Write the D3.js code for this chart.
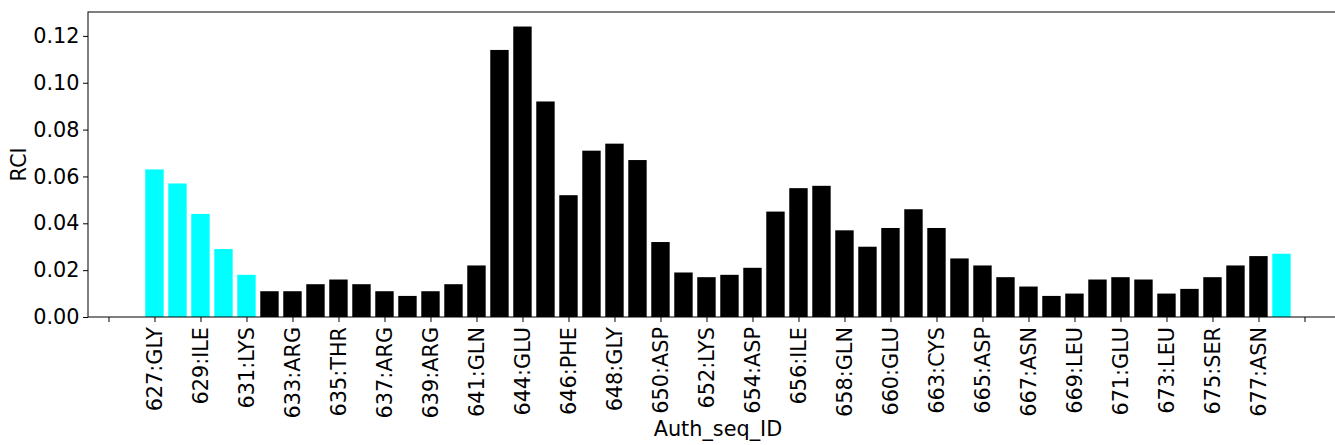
<!DOCTYPE html>
<html>
<head>
<meta charset="utf-8">
<script src="https://cdn.jsdelivr.net/npm/d3@7"></script>
<style>
  html, body { margin: 0; padding: 0; background: #fff; }
  svg { display: block; }
  text { font-family: "DejaVu Sans", sans-serif; }
</style>
</head>
<body>
<svg id="chart" width="1335" height="445"></svg>
<script>
// Values, one per residue (bar index 0..49)
const values = [
  0.063, 0.057, 0.044, 0.029, 0.018, 0.011, 0.011, 0.014, 0.016, 0.014,
  0.011, 0.009, 0.011, 0.014, 0.022, 0.114, 0.124, 0.092, 0.052, 0.071,
  0.074, 0.067, 0.032, 0.019, 0.017, 0.018, 0.021, 0.045, 0.055, 0.056,
  0.037, 0.030, 0.038, 0.046, 0.038, 0.025, 0.022, 0.017, 0.013, 0.009,
  0.010, 0.016, 0.017, 0.016, 0.010, 0.012, 0.017, 0.022, 0.026, 0.027
];
// Highlighted (cyan) bars
const highlighted = [0, 1, 2, 3, 4, 49];
// Tick labels shown on every other bar
const tickLabels = [
  "627:GLY", "629:ILE", "631:LYS", "633:ARG", "635:THR", "637:ARG", "639:ARG",
  "641:GLN", "644:GLU", "646:PHE", "648:GLY", "650:ASP", "652:LYS", "654:ASP",
  "656:ILE", "658:GLN", "660:GLU", "663:CYS", "665:ASP", "667:ASN", "669:LEU",
  "671:GLU", "673:LEU", "675:SER", "677:ASN"
];
const yTicks = [0, 0.02, 0.04, 0.06, 0.08, 0.10, 0.12];

const svg = d3.select("#chart");
const fs = 20.8;
const mLeft = 88, mTop = 12, mBottom = 317;
const n = values.length;
const barW = 0.8;
const xMin = -barW / 2, xMax = n - 1 + barW / 2;
const pad = (xMax - xMin) * 0.05;
const yMax = d3.max(values) * 1.05;

const x = d3.scaleLinear().domain([xMin - pad, xMax + pad]).range([mLeft, mLeft + 23 * (xMax - xMin + 2 * pad)]);
const y = d3.scaleLinear().domain([0, yMax]).range([mBottom, mTop]);
const mRight = x.range()[1];

// Bars
svg.append("g").selectAll("rect")
  .data(values)
  .join("rect")
  .attr("x", (d, i) => x(i - barW / 2))
  .attr("width", (d, i) => x(barW) - x(0))
  .attr("y", d => y(d))
  .attr("height", d => y(0) - y(d))
  .attr("fill", (d, i) => highlighted.includes(i) ? "#00ffff" : "#000000");

// Frame (spines)
svg.append("rect")
  .attr("x", mLeft).attr("y", mTop)
  .attr("width", mRight - mLeft).attr("height", mBottom - mTop)
  .attr("fill", "none").attr("stroke", "#000").attr("stroke-width", 1);

// Y axis
const yAxis = d3.axisLeft(y).tickValues(yTicks).tickFormat(d3.format(".2f")).tickSize(5).tickPadding(3.5);
const gy = svg.append("g").attr("transform", `translate(${mLeft},0)`).call(yAxis);
gy.attr("font-size", fs).attr("font-family", "DejaVu Sans");
gy.select(".domain").remove();
gy.selectAll("text").attr("fill", "#000");
gy.selectAll("line").attr("stroke", "#000");

// X axis: ticks every 2 positions from -2 to 50; labels on 0..48
const xTickVals = d3.range(-2, 51, 2);
const xAxis = d3.axisBottom(x).tickValues(xTickVals)
  .tickFormat(d => (d >= 0 && d / 2 < tickLabels.length) ? tickLabels[d / 2] : "")
  .tickSize(5);
const gx = svg.append("g").attr("transform", `translate(0,${mBottom})`).call(xAxis);
gx.attr("font-size", fs).attr("font-family", "DejaVu Sans");
gx.select(".domain").remove();
gx.selectAll("line").attr("stroke", "#000");
gx.selectAll("text")
  .attr("fill", "#000")
  .attr("text-anchor", "end")
  .attr("transform", "rotate(-90)")
  .attr("x", -10).attr("y", 0).attr("dy", "0.35em");

// Axis titles
svg.append("text")
  .attr("x", (mLeft + mRight) / 2).attr("y", 436)
  .attr("text-anchor", "middle").attr("font-size", fs).attr("fill", "#000")
  .text("Auth_seq_ID");
svg.append("text")
  .attr("transform", `translate(25.5,${(mTop + mBottom) / 2}) rotate(-90)`)
  .attr("text-anchor", "middle").attr("font-size", fs).attr("fill", "#000")
  .text("RCI");
</script>
</body>
</html>
